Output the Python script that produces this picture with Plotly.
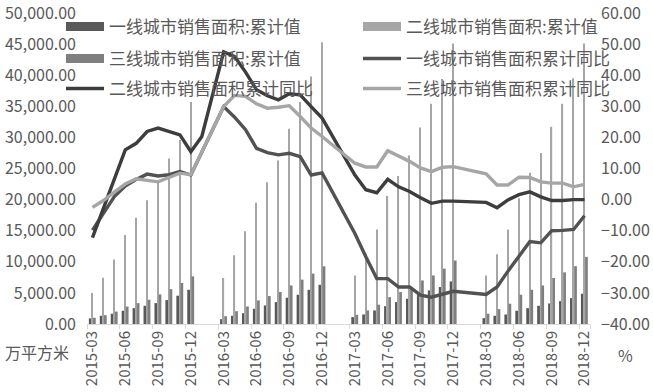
import plotly.graph_objects as go

months = [
    "2015-03", "2015-04", "2015-05", "2015-06", "2015-07", "2015-08", "2015-09", "2015-10", "2015-11", "2015-12",
    "2016-01", "2016-02", "2016-03", "2016-04", "2016-05", "2016-06", "2016-07", "2016-08", "2016-09", "2016-10", "2016-11", "2016-12",
    "2017-01", "2017-02", "2017-03", "2017-04", "2017-05", "2017-06", "2017-07", "2017-08", "2017-09", "2017-10", "2017-11", "2017-12",
    "2018-01", "2018-02", "2018-03", "2018-04", "2018-05", "2018-06", "2018-07", "2018-08", "2018-09", "2018-10", "2018-11", "2018-12",
]
tick_labels = ["2015-03", "2015-06", "2015-09", "2015-12", "2016-03", "2016-06", "2016-09", "2016-12",
               "2017-03", "2017-06", "2017-09", "2017-12", "2018-03", "2018-06", "2018-09", "2018-12"]

# 累计值 (万平方米)
tier1_area = [900, 1320, 1650, 2130, 2550, 2930, 3360, 3850, 4550, 5500,
              None, None, 780, 1320, 1740, 2450, 2980, 3520, 4220, 4700, 5500, 6300,
              None, None, 1100, 1530, 2180, 2870, 3520, 4060, 4760, 5400, 5940, 6850,
              None, None, 940, 1320, 1530, 2130, 2550, 2930, 3300, 3680, 4160, 4870]
tier2_area = [4970, 7450, 10350, 14300, 17100, 19900, 23100, 26600, 29600, 35700,
              None, None, 7400, 11050, 14900, 19500, 22800, 26300, 31400, 35700, 39800, 45300,
              None, None, 7800, 11300, 15200, 20600, 23800, 27100, 31600, 35400, 39400, 45100,
              None, None, 7800, 11200, 15200, 20200, 24300, 27500, 31700, 35400, 39500, 45100]
tier3_area = [1000, 1420, 2000, 2800, 3350, 3900, 4760, 5600, 6600, 7660,
              None, None, 1260, 2060, 2820, 3790, 4490, 5130, 6200, 7130, 8100, 9270,
              None, None, 1480, 2180, 3100, 4320, 5130, 5940, 7000, 7800, 8900, 10200,
              None, None, 1650, 2390, 3260, 4700, 5500, 6200, 7400, 8300, 9300, 10800]

# 累计同比 (%)
tier1_yoy = [-9.8, -4.2, 1.0, 4.4, 6.5, 8.2, 7.6, 8.0, 9.0, 7.9,
             None, None, 29.9, 26.5, 22.5, 16.5, 15.1, 14.4, 14.9, 13.8, 7.9, 8.6,
             None, None, -10.9, -18.4, -25.4, -25.4, -28.1, -28.1, -30.7, -31.4, -30.4, -29.5,
             None, None, -30.5, -28.1, -23.0, -18.4, -13.5, -13.9, -10.0, -9.9, -9.6, -5.2]
tier2_yoy = [-12.2, -2.7, 6.7, 16.0, 18.1, 21.9, 23.0, 21.9, 20.8, 15.4,
             20.3, None, 47.5, 46.0, 41.0, 35.3, 33.4, 32.1, 34.0, 33.7, 29.9, 26.2,
             None, None, 7.9, 3.2, 2.2, 6.5, 4.1, 2.6, 0.6, -1.2, -0.5, -0.5,
             None, None, -0.9, -2.6, -0.1, 1.6, 2.5, 0.9, -0.3, -0.3, 0.0, 0.0]
tier3_yoy = [-2.5, -0.3, 2.4, 5.0, 6.7, 6.2, 5.7, 7.1, 8.5, 8.0,
             None, None, 29.9, 33.5, 33.2, 30.8, 29.4, 29.7, 30.2, 26.7, 23.0, 20.3,
             None, None, 11.7, 10.5, 10.5, 15.7, 14.1, 12.3, 10.2, 9.0, 10.4, 10.6,
             None, None, 8.3, 4.7, 4.7, 7.2, 7.1, 5.7, 5.3, 5.3, 4.1, 4.9]

names = ["一线城市销售面积:累计值", "二线城市销售面积:累计值", "三线城市销售面积:累计值",
         "一线城市销售面积累计同比", "二线城市销售面积累计同比", "三线城市销售面积累计同比"]

FONT = "Noto Sans CJK SC"
TXT = "#595959"
BAR1, BAR2, BAR3 = "#595959", "#a6a6a6", "#7f7f7f"
LN1, LN2, LN3 = "#525252", "#3d3d3d", "#a6a6a6"

fig = go.Figure()
fig.add_bar(x=months, y=tier1_area, name=names[0], marker=dict(color=BAR1, line=dict(width=0)),
            width=0.25, offset=-0.33, showlegend=False)
fig.add_bar(x=months, y=tier2_area, name=names[1], marker=dict(color=BAR2, line=dict(width=0)),
            width=0.11, offset=-0.07, showlegend=False)
fig.add_bar(x=months, y=tier3_area, name=names[2], marker=dict(color=BAR3, line=dict(width=0)),
            width=0.25, offset=0.05, showlegend=False)

# legend entries for the bar series (wide swatches)
fig.add_scatter(x=[None], y=[None], mode="lines", name=names[0], line=dict(color=BAR1, width=9), legend="legend")
fig.add_scatter(x=[None], y=[None], mode="lines", name=names[1], line=dict(color=BAR2, width=9), legend="legend2")
fig.add_scatter(x=[None], y=[None], mode="lines", name=names[2], line=dict(color=BAR3, width=9), legend="legend3")

fig.add_scatter(x=months, y=tier1_yoy, name=names[3], yaxis="y2", mode="lines", connectgaps=True,
                line=dict(color=LN1, width=3.4), legend="legend4")
fig.add_scatter(x=months, y=tier2_yoy, name=names[4], yaxis="y2", mode="lines", connectgaps=True,
                line=dict(color=LN2, width=3.4), legend="legend5")
fig.add_scatter(x=months, y=tier3_yoy, name=names[5], yaxis="y2", mode="lines", connectgaps=True,
                line=dict(color=LN3, width=3.4), legend="legend6")

PL, PR, PT, PB = 87, 63, 13, 68
W, H = 653, 392
pw, ph = W - PL - PR, H - PT - PB

def px_x(x):
    return (x - PL) / pw

def px_y(y):
    return (H - PB - y) / ph

leg_common = dict(orientation="h", itemwidth=38,
                  bgcolor="rgba(0,0,0,0)", font=dict(family=FONT, size=17, color=TXT),
                  xanchor="left", yanchor="middle")
LX, RX = px_x(61), px_x(358)
R1, R2, R3 = px_y(27), px_y(59), px_y(89)

fig.update_layout(
    width=W, height=H,
    margin=dict(l=PL, r=PR, t=PT, b=PB, autoexpand=False),
    paper_bgcolor="white", plot_bgcolor="white",
    barmode="overlay",
    font=dict(family=FONT, size=16, color=TXT),
    legend=dict(leg_common, x=LX, y=R1),
    legend2=dict(leg_common, x=RX, y=R1),
    legend3=dict(leg_common, x=LX, y=R2),
    legend4=dict(leg_common, x=RX, y=R2),
    legend5=dict(leg_common, x=LX, y=R3),
    legend6=dict(leg_common, x=RX, y=R3),
    xaxis=dict(type="category", categoryorder="array", categoryarray=months,
               tickmode="array", tickvals=tick_labels, ticktext=tick_labels,
               tickangle=-90, tickson="boundaries", ticks="outside", ticklen=4,
               tickcolor="#d9d9d9", showline=True, linecolor="#d9d9d9", linewidth=1,
               showgrid=False, range=[-0.5, len(months) - 0.5], ticklabeloverflow="allow",
               tickfont=dict(family=FONT, size=15, color=TXT)),
    yaxis=dict(range=[0, 50000], tickmode="linear", tick0=0, dtick=5000, tickformat=",.2f",
               showgrid=False, zeroline=False, showline=False, ticks="", ticklabelstandoff=10,
               ticklabeloverflow="allow", tickfont=dict(family=FONT, size=16, color=TXT)),
    yaxis2=dict(range=[-40, 60], tickmode="linear", tick0=-40, dtick=10, tickformat=".2f",
                overlaying="y", side="right", showgrid=False, zeroline=False, showline=False, ticks="",
                ticklabelstandoff=10, ticklabeloverflow="allow",
                tickfont=dict(family=FONT, size=16, color=TXT)),
    annotations=[
        dict(text="万平方米", xref="paper", yref="paper", x=px_x(37), y=px_y(352),
             xanchor="center", yanchor="middle",
             showarrow=False, font=dict(family=FONT, size=16, color=TXT)),
        dict(text="%", xref="paper", yref="paper", x=px_x(625), y=px_y(355),
             xanchor="center", yanchor="middle",
             showarrow=False, font=dict(family=FONT, size=16, color=TXT)),
    ],
)

fig.write_html("out.html", config={"displayModeBar": False},
               post_script="document.body.style.margin='0px';document.body.style.padding='0px';")
